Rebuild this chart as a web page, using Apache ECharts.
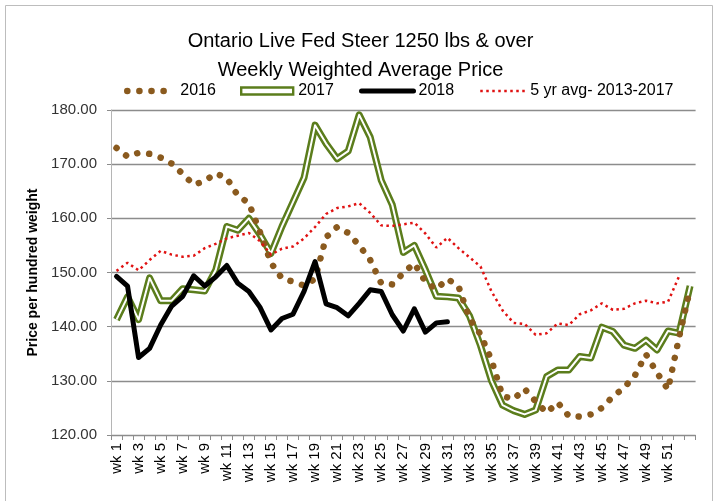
<!DOCTYPE html>
<html>
<head>
<meta charset="utf-8">
<script src="https://cdn.jsdelivr.net/npm/echarts@6/dist/echarts.min.js"></script>
<style>
html,body{margin:0;padding:0;background:#fff;}
#chart{width:721px;height:501px;}
</style>
</head>
<body>
<div id="chart"></div>
<script>
// ---- data ----
const weeks = ['wk 1','wk 2','wk 3','wk 4','wk 5','wk 6','wk 7','wk 8','wk 9','wk 10',
  'wk 11','wk 12','wk 13','wk 14','wk 15','wk 16','wk 17','wk 18','wk 19','wk 20',
  'wk 21','wk 22','wk 23','wk 24','wk 25','wk 26','wk 27','wk 28','wk 29','wk 30',
  'wk 31','wk 32','wk 33','wk 34','wk 35','wk 36','wk 37','wk 38','wk 39','wk 40',
  'wk 41','wk 42','wk 43','wk 44','wk 45','wk 46','wk 47','wk 48','wk 49','wk 50',
  'wk 51','wk 52','wk 53'];

const price2016 = [173.0, 171.4, 172.1, 171.9, 171.2, 170.1, 168.2, 166.2, 166.9, 168.3,
  167.4, 164.2, 162.8, 157.5, 151.8, 148.9, 148.3, 147.6, 148.8, 156.5,
  158.4, 157.3, 155.0, 152.3, 148.0, 147.8, 149.9, 151.7, 148.3, 146.9,
  148.8, 147.5, 141.5, 138.6, 133.8, 127.2, 126.6, 128.5, 126.2, 124.1,
  126.0, 123.5, 123.4, 123.8, 125.0, 127.1, 128.7, 131.0, 134.9, 131.5,
  128.4, 138.0, 147.0];

const price2017 = [141.3, 145.5, 141.3, 149.0, 144.8, 144.8, 147.0, 146.8, 146.6, 150.5,
  158.5, 157.8, 160.0, 157.0, 153.5, 158.5, 163.0, 167.5, 177.2, 173.8,
  171.0, 172.4, 179.1, 175.0, 167.0, 162.5, 153.7, 155.0, 150.5, 145.6,
  145.5, 145.3, 142.0, 136.5, 130.0, 125.5, 124.5, 123.8, 124.6, 130.8,
  132.0, 132.0, 134.5, 134.2, 139.9, 139.1, 136.6, 136.0, 137.5, 135.7,
  139.2, 138.8, 147.5];

const price2018 = [149.3, 147.5, 134.3, 136.0, 140.3, 143.8, 145.6, 149.4, 147.5, 149.2,
  151.3, 148.0, 146.5, 143.6, 139.4, 141.5, 142.3, 146.5, 152.0, 144.2,
  143.5, 142.0, 144.3, 146.8, 146.5, 142.2, 139.2, 143.3, 139.0, 140.7,
  140.9];

const avg5yr = [150.3, 151.8, 150.4, 152.3, 154.0, 153.3, 152.9, 153.1, 154.5, 155.3,
  156.3, 156.8, 157.3, 155.8, 153.3, 154.4, 154.8, 156.3, 158.4, 160.8,
  161.9, 162.2, 162.8, 161.0, 158.7, 158.6, 158.9, 159.2, 157.2, 154.6,
  156.4, 154.5, 152.8, 151.1, 146.5, 143.0, 140.7, 140.5, 138.5, 138.8,
  140.6, 140.3, 142.3, 143.0, 144.3, 143.1, 143.3, 144.3, 144.8, 144.3,
  144.6, 149.3];

const yTicks = {min: 120, max: 180, step: 10};

// ---- styles ----
const BROWN = '#8a5a1e';
const OLIVE = '#5b7d1c';
const RED = '#e01212';
const FONT = '"Liberation Sans", Arial, sans-serif';

const chart = echarts.init(document.getElementById('chart'), null, {renderer: 'canvas'});

const legendBase = {
  orient: 'horizontal', top: 83, padding: 0,
  textStyle: {fontFamily: FONT, fontSize: 16, color: '#000'},
  selectedMode: false,
  itemStyle: {opacity: 0}
};

const option = {
  backgroundColor: '#fff',
  animation: false,
  title: {
    text: 'Ontario Live Fed Steer 1250 lbs & over\nWeekly Weighted Average Price',
    left: 'center', top: 22,
    textStyle: {fontFamily: FONT, fontSize: 20, fontWeight: 'normal', color: '#000', lineHeight: 29}
  },
  graphic: [{
    type: 'rect', shape: {x: 5.5, y: 5.5, width: 707, height: 520},
    style: {fill: 'none', stroke: '#bdbdbd', lineWidth: 1}, silent: true, z: -1
  }],
  legend: [
    Object.assign({}, legendBase, {
      left: 124, itemWidth: 40, itemHeight: 2, data: ['2016'],
      lineStyle: {width: 6.5, type: [0.1, 12], cap: 'round'},
      textStyle: {fontFamily: FONT, fontSize: 16, color: '#000', padding: [0, 0, 0, 8]}
    }),
    Object.assign({}, legendBase, {
      left: 240, itemWidth: 52, itemHeight: 7,
      data: [{name: '2017', icon: 'rect', itemStyle: {color: '#fff', borderColor: OLIVE, borderWidth: 2.4, opacity: 1}}]
    }),
    Object.assign({}, legendBase, {
      left: 359, itemWidth: 52, itemHeight: 2, data: ['2018'],
      lineStyle: {width: 5, type: 'solid', cap: 'round'}
    }),
    Object.assign({}, legendBase, {
      left: 479, itemWidth: 45, itemHeight: 2, data: ['5 yr avg- 2013-2017'],
      lineStyle: {width: 2.5, type: [2.5, 3.5], cap: 'butt'}
    })
  ],
  grid: {left: 111, right: 25.4, top: 110, bottom: 66, containLabel: false},
  xAxis: {
    type: 'category', data: weeks, boundaryGap: true,
    axisLine: {show: true, lineStyle: {color: '#8c8c8c', width: 1}},
    axisTick: {show: true, interval: 0, length: 5, lineStyle: {color: '#8c8c8c'}},
    axisLabel: {
      rotate: 90, margin: 8, fontFamily: FONT, fontSize: 15, color: '#000',
      interval: function (index) { return index % 2 === 0 && index <= 50; }
    },
    splitLine: {show: false}
  },
  yAxis: {
    type: 'value', min: yTicks.min, max: yTicks.max, interval: yTicks.step,
    name: 'Price per hundred weight', nameLocation: 'middle', nameRotate: 90, nameGap: 67,
    nameTextStyle: {fontFamily: FONT, fontSize: 14, fontWeight: 'bold', color: '#000'},
    axisLine: {show: true, lineStyle: {color: '#b5b5b5', width: 1}},
    axisTick: {show: true, length: 4, inside: false, lineStyle: {color: '#8c8c8c'}},
    axisLabel: {
      margin: 14, fontFamily: FONT, fontSize: 15, color: '#333',
      formatter: function (v) { return v.toFixed(2); }
    },
    splitLine: {show: true, lineStyle: {color: '#8c8c8c', width: 1.3}}
  },
  series: [
    {
      name: '2017', type: 'line', data: price2017, symbol: 'none', z: 2,
      lineStyle: {color: OLIVE, width: 7, join: 'round'}, itemStyle: {color: OLIVE}
    },
    {
      name: '2017 inner', type: 'line', data: price2017, symbol: 'none', z: 3,
      lineStyle: {color: '#fff', width: 2, join: 'round'}, itemStyle: {color: '#fff'}
    },
    {
      name: '2016', type: 'line', data: price2016, symbol: 'none', z: 4,
      lineStyle: {color: BROWN, width: 6.5, type: [0.1, 12], cap: 'round'}, itemStyle: {color: BROWN}
    },
    {
      name: '2018', type: 'line', data: price2018, symbol: 'none', z: 5,
      lineStyle: {color: '#000', width: 5, join: 'round', cap: 'round'}, itemStyle: {color: '#000'}
    },
    {
      name: '5 yr avg- 2013-2017', type: 'line', data: avg5yr, symbol: 'none', z: 6,
      lineStyle: {color: RED, width: 2.5, type: [2.5, 3.5]}, itemStyle: {color: RED}
    }
  ]
};

chart.setOption(option);
</script>
</body>
</html>
